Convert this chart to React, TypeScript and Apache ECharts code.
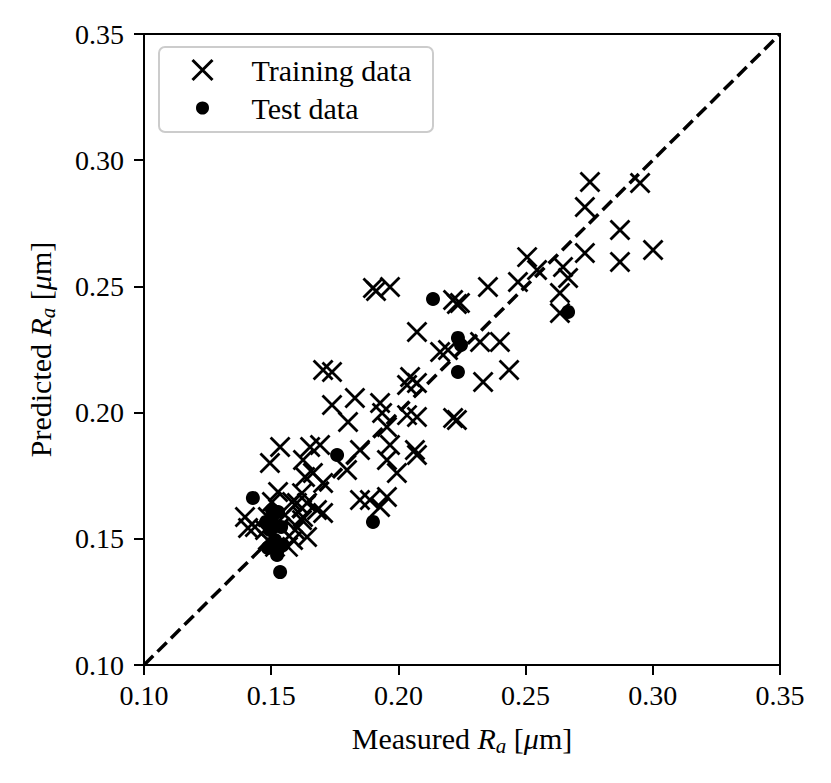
import React, { useEffect, useRef } from "react";
import * as echarts from "echarts";

const trainX = [
  0.2753, 0.295, 0.2733, 0.2871, 0.2733, 0.3001, 0.2871, 0.2506, 0.2545, 0.2647,
  0.2667, 0.2635, 0.2635, 0.2352, 0.247, 0.2242, 0.19, 0.1967, 0.1912, 0.2215,
  0.223, 0.2073, 0.2164, 0.2195, 0.2321, 0.2399, 0.2333, 0.2435, 0.1704, 0.1739,
  0.2046, 0.2073, 0.2034, 0.1739, 0.1829, 0.1802, 0.1928, 0.1936, 0.2034, 0.2073,
  0.2215, 0.223, 0.1955, 0.1653, 0.1692, 0.1849, 0.1798, 0.1967, 0.2065, 0.2073,
  0.1955, 0.1994, 0.1849, 0.1888, 0.1955, 0.1928, 0.1625, 0.1664, 0.1704, 0.1641,
  0.1601, 0.168, 0.1704, 0.1625, 0.1641, 0.1586, 0.1535, 0.1495, 0.1633, 0.1621,
  0.1527, 0.1503, 0.1582, 0.1397, 0.1487, 0.1554, 0.1621, 0.1436, 0.1409, 0.1476,
  0.1535, 0.1594, 0.1487, 0.1515, 0.1566,
];
const trainY = [
  0.2914, 0.291, 0.2815, 0.2723, 0.2632, 0.2644, 0.2597, 0.2616, 0.2565, 0.2577,
  0.2533, 0.2474, 0.2395, 0.2498, 0.2517, 0.2434, 0.2494, 0.2498, 0.2482, 0.2446,
  0.243, 0.2319, 0.224, 0.2248, 0.228, 0.228, 0.2121, 0.2169, 0.2169, 0.2161,
  0.2141, 0.2117, 0.2109, 0.203, 0.2058, 0.1963, 0.2038, 0.1998, 0.199, 0.1983,
  0.1979, 0.1971, 0.1943, 0.1864, 0.1872, 0.1852, 0.1773, 0.1872, 0.1852, 0.1832,
  0.1812, 0.1761, 0.1654, 0.1654, 0.1666, 0.1626, 0.1812, 0.1761, 0.1721, 0.1642,
  0.1642, 0.1614, 0.1602, 0.1586, 0.1507, 0.1495, 0.1864, 0.18, 0.1745, 0.1681,
  0.1685, 0.1646, 0.1646, 0.1586, 0.1586, 0.1594, 0.1574, 0.1547, 0.1543, 0.1535,
  0.1547, 0.1535, 0.1495, 0.1468, 0.1468,
];
const testX = [
  0.1428, 0.1503, 0.1503, 0.1495, 0.1515, 0.1535, 0.1759, 0.19, 0.2136, 0.2234,
  0.2246, 0.2234, 0.2667, 0.1527, 0.148, 0.1539, 0.1546, 0.1487, 0.1523,
];
const testY = [
  0.1662, 0.1614, 0.1574, 0.1535, 0.1495, 0.1368, 0.1832, 0.1567, 0.245, 0.2296,
  0.2268, 0.2161, 0.2399, 0.1606, 0.1567, 0.1547, 0.1475, 0.1464, 0.1436,
];
const diagonal = [0.1, 0.35];
const tickValues = [0.1, 0.15, 0.2, 0.25, 0.3, 0.35];
const seriesNames = ["Training data", "Test data"];

const FONT = "'Liberation Serif', 'Times New Roman', serif";

const richStyles = {
  r: { fontFamily: FONT, fontSize: 30, color: "#000" },
  i: { fontFamily: FONT, fontSize: 30, fontStyle: "italic", color: "#000" },
  s: { fontFamily: FONT, fontSize: 21, fontStyle: "italic", color: "#000", padding: [14, 0, 0, 0] },
};

export default function App() {
  const ref = useRef<HTMLDivElement>(null);
  useEffect(() => {
    const chart = echarts.init(ref.current!, undefined, { renderer: "svg" });
    const trainData = trainX.map((x, i) => [x, trainY[i]]);
    const testData = testX.map((x, i) => [x, testY[i]]);
    const axisCommon = {
      type: "value",
      min: tickValues[0],
      max: tickValues[tickValues.length - 1],
      interval: 0.05,
      splitLine: { show: false },
      axisLine: { show: true, onZero: false, lineStyle: { color: "#000", width: 2 } },
      axisTick: { show: true, inside: false, length: 10, lineStyle: { color: "#000", width: 2 } },
      axisLabel: {
        fontFamily: FONT,
        fontSize: 28,
        color: "#000",
        formatter: (v: number) => v.toFixed(2),
      },
      nameLocation: "middle",
      nameTextStyle: { rich: richStyles },
    };
    chart.setOption({
      animation: false,
      backgroundColor: "#fff",
      grid: {
        left: 144,
        top: 34,
        width: 636,
        height: 631,
        show: true,
        borderColor: "#000",
        borderWidth: 2,
        backgroundColor: "transparent",
      },
      xAxis: {
        ...axisCommon,
        axisLabel: { ...axisCommon.axisLabel, margin: 16 },
        name: "{r|Measured }{i|R}{s|a}{r| [}{i|μ}{r|m]}",
        nameGap: 56,
      },
      yAxis: {
        ...axisCommon,
        axisLabel: { ...axisCommon.axisLabel, margin: 20 },
        name: "{r|Predicted }{i|R}{s|a}{r| [}{i|μ}{r|m]}",
        nameGap: 86,
      },
      graphic: [
        {
          type: "rect",
          left: 158,
          top: 46,
          z: 0,
          shape: { width: 274, height: 85, r: 6 },
          style: { fill: "rgba(255,255,255,0.8)", stroke: "#cccccc", lineWidth: 2 },
        },
      ],
      legend: {
        orient: "vertical",
        left: 189,
        top: 55,
        padding: 0,
        itemWidth: 20,
        itemHeight: 20,
        itemGap: 8,
        data: [
          { name: seriesNames[0], itemStyle: { color: "#000", borderColor: "#000", borderWidth: 3, opacity: 1 } },
          { name: seriesNames[1], itemStyle: { color: "#000", borderColor: "#fff", borderWidth: 7, opacity: 1 } },
        ],
        textStyle: {
          fontFamily: FONT,
          fontSize: 30,
          color: "#000",
          lineHeight: 30,
          padding: [0, 0, 0, 34],
        },
      },
      series: [
        {
          type: "line",
          data: diagonal.map((v) => [v, v]),
          showSymbol: false,
          symbol: "none",
          silent: true,
          lineStyle: { color: "#000", width: 3.5, type: [13, 6] },
          z: 1,
        },
        {
          name: seriesNames[0],
          type: "scatter",
          data: trainData,
          symbol: "path://M0,0L10,10M10,0L0,10",
          symbolSize: 19,
          itemStyle: { color: "#000", borderColor: "#000", borderWidth: 2.8, opacity: 1 },
          z: 2,
        },
        {
          name: seriesNames[1],
          type: "scatter",
          data: testData,
          symbol: "circle",
          symbolSize: 14,
          itemStyle: { color: "#000", opacity: 1 },
          z: 3,
        },
      ],
    });
    return () => chart.dispose();
  }, []);
  return (
    <div
      ref={ref}
      style={{ position: "absolute", left: 0, top: 0, width: 831, height: 783 }}
    />
  );
}
